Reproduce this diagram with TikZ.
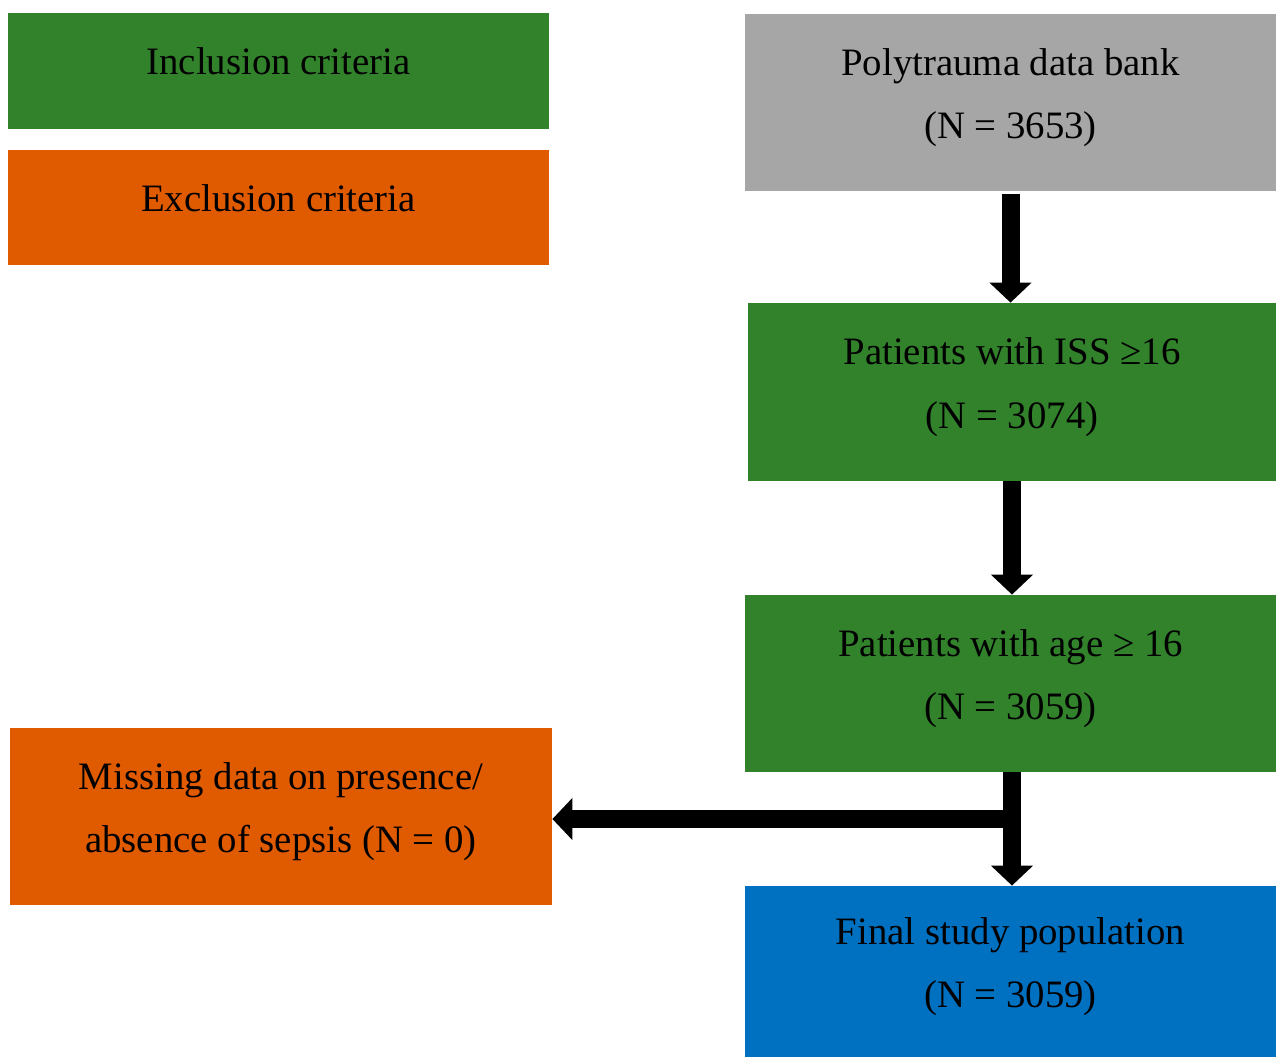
\documentclass[tikz,border=0pt]{standalone}
\usepackage{fontspec}
\setmainfont{Liberation Serif}
\usetikzlibrary{arrows.meta,calc}
\definecolor{incgreen}{HTML}{31822B}
\definecolor{excorange}{HTML}{E05A00}
\definecolor{bankgray}{HTML}{A6A6A6}
\definecolor{finalblue}{HTML}{0070C0}
\newcommand{\upby}[2]{\raisebox{#1}[\height][\depth]{\begin{tabular}{@{}c@{}}#2\end{tabular}}}
\tikzset{
  box/.style={rectangle, inner sep=0pt, align=center, text=black,
    font=\fontsize{19.4}{31.7}\selectfont},
  flowarrow/.style={line width=9pt, -{Triangle[width=20.5pt,length=10pt]}}
}
\begin{document}
\begin{tikzpicture}[x=0.5pt,y=-0.5pt]
\useasboundingbox (0,0) rectangle (1276,1057);
\node[box, fill=incgreen, minimum width=270.5pt, minimum height=58pt] (inc) at (278.5,71) {\upby{4.5pt}{Inclusion criteria}};
\node[box, fill=excorange, minimum width=270.5pt, minimum height=57.5pt] (exc) at (278.5,207.5) {\upby{4.5pt}{Exclusion criteria}};
\node[box, fill=bankgray, minimum width=265.5pt, minimum height=88.5pt] (poly) at (1010.5,102.5) {\upby{4pt}{Polytrauma data bank\\(N = 3653)}};
\node[box, fill=incgreen, minimum width=264pt, minimum height=89pt] (iss) at (1012,392) {\upby{4pt}{Patients with ISS ≥16\\(N = 3074)}};
\node[box, fill=incgreen, minimum width=265.5pt, minimum height=88.5pt] (age) at (1010.5,683.5) {\upby{4pt}{Patients with age ≥ 16\\(N = 3059)}};
\node[box, fill=excorange, minimum width=271pt, minimum height=88.5pt] (miss) at (281,816.5) {\upby{4pt}{Missing data on presence/\\absence of sepsis (N = 0)}};
\node[box, fill=finalblue, minimum width=265.5pt, minimum height=85.5pt] (final) at (1010.5,971.5) {\upby{4pt}{Final study population\\(N = 3059)}};
\coordinate (jt) at ($(age.south)+(1.5,0)$);
\coordinate (j) at ($(jt |- miss.east)+(0,2.5)$);
\coordinate (jb) at (jt |- final.north);
\draw[flowarrow] ($(poly.south)+(0,3)$) -- (poly.south |- iss.north);
\draw[flowarrow] (iss.south) -- (iss.south |- age.north);
\draw[flowarrow] (jt) -- (jb);
\draw[flowarrow] ($(j)+(9,0)$) -- (miss.east |- j);
\end{tikzpicture}
\end{document}
